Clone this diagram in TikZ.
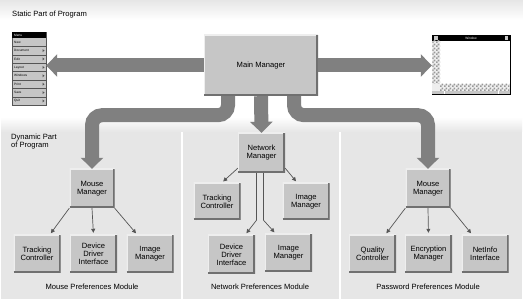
\documentclass[tikz,border=0pt]{standalone}
\usepackage{fontspec}
\setmainfont{Liberation Sans}
\usetikzlibrary{arrows.meta,patterns.meta,positioning}
\definecolor{panelgray}{RGB}{230,230,230}
\definecolor{boxgray}{RGB}{198,198,198}
\definecolor{boxdark}{RGB}{112,112,112}
\definecolor{boxlight}{RGB}{238,238,238}
\definecolor{arrowgray}{RGB}{128,128,128}
\definecolor{linegray}{RGB}{85,85,85}

\tikzdeclarepattern{name=checks, type=uncolored,
  bounding box={(0pt,0pt) and (4pt,4pt)}, tile size={(4pt,4pt)},
  code={\fill (0pt,0pt) rectangle (2pt,2pt); \fill (2pt,2pt) rectangle (4pt,4pt);}}

\tikzset{
  lbl/.style={font=\fontsize{7.6}{8}\selectfont},
  tinylbl/.style={font=\fontsize{3.2}{3.5}\selectfont, inner sep=0pt},
  mgrbox/.style={lbl, fill=boxgray, align=center, inner sep=1pt,
    minimum width=47pt, minimum height=38pt,
    path picture={
      \draw[boxlight, line width=2pt] (path picture bounding box.south west)
        -- (path picture bounding box.north west) -- (path picture bounding box.north east);
      \draw[boxdark, line width=4pt] (path picture bounding box.south west)
        -- (path picture bounding box.south east) -- (path picture bounding box.north east);
    }},
  mainbox/.style={mgrbox, minimum width=114pt, minimum height=61pt},
  bigarrow/.style={draw=arrowgray, line width=14pt, -{Triangle[width=22pt,length=11pt]}},
  thinarrow/.style={draw=linegray, line width=0.7pt, -{Triangle[width=4pt,length=4pt]}, shorten >=2pt},
}

\begin{document}
\begin{tikzpicture}[x=1pt, y=-1pt]
\useasboundingbox (0,0) rectangle (523,307);

% Background
\fill[white] (0,0) rectangle (523,307);
\shade[top color=panelgray, bottom color=white] (0,0) rectangle (523,20);
\shade[top color=white, bottom color=panelgray] (1,117) rectangle (522,132);
\fill[panelgray] (1,132) rectangle (522,299);
\fill[white] (181,132) rectangle (183,299);
\fill[white] (339,132) rectangle (341,299);

% Titles
\node[lbl, anchor=base west, inner sep=0pt] (static) at (12,17) {Static Part of Program};
\node[lbl, anchor=north west, align=left, inner sep=0pt] (dynamic) at (11,134) {Dynamic Part\\of Program};

% Main manager
\node[mainbox] (main) at (261,65.5) {Main Manager};

% Menu
\node[draw=linegray, fill=boxgray, minimum width=34pt, minimum height=73pt, inner sep=0pt] (menu) at (29,68.5) {};
\fill[black] (12,32) rectangle (46,38);
\node[tinylbl, white, anchor=west] at (14,35) {Menu};
\foreach \i/\item in {1/New,2/Document,3/Edit,4/Layout,5/Windows,6/Print,7/Save,8/Quit} {
  \draw[linegray, line width=0.4pt] (12,{38+8.4*\i}) -- (46,{38+8.4*\i});
  \node[tinylbl, anchor=west] at (14,{38+8.4*\i-4.2}) {\item};
}
\foreach \i in {2,...,8} {
  \fill[linegray] (42.5,{38+8.4*\i-5.7}) -- (44.5,{38+8.4*\i-4.2}) -- (42.5,{38+8.4*\i-2.7}) -- cycle;
}

% Window
\node[draw=black, fill=white, minimum width=78pt, minimum height=59pt, inner sep=0pt] (win) at (471,64.5) {};
\fill[black] (432,35) rectangle (510,41);
\node[tinylbl, white] at (471,38) {Window};
\fill[boxgray] (434,36) rectangle (437.5,40);
\fill[boxgray] (504.5,36) rectangle (508,40);
\fill[boxlight] (432.3,41) rectangle (440,91);
\fill[pattern=checks, pattern color=gray!80] (432.3,41) rectangle (440,91);
\fill[boxlight] (432.3,84) rectangle (509.7,91);
\fill[pattern=checks, pattern color=gray!80] (440,84) rectangle (509.7,91);
\fill[boxgray] (432.3,91) rectangle (509.7,94);
\draw[white, line width=0.8pt] (444,91) -- (444,94);
\draw[white, line width=0.8pt] (498,91) -- (498,94);

% Mouse preferences module
\node[mgrbox, minimum width=45pt, minimum height=39pt] (mouseL) at (92,188.5) {Mouse\\Manager};
\node[mgrbox] (trackL) at (37,254) {Tracking\\Controller};
\node[mgrbox] (devL) at (93.5,254) {Device\\Driver\\Interface};
\node[mgrbox] (imgL) at (150,254) {Image\\Manager};
\node[lbl] (modL) at (92,287) {Mouse Preferences Module};

% Network preferences module
\node[mgrbox, minimum height=40pt] (netM) at (261.5,153) {Network\\Manager};
\node[mgrbox, minimum height=37pt] (trackM) at (217,201.5) {Tracking\\Controller};
\node[mgrbox, minimum height=37pt] (imgMa) at (306,201.5) {Image\\Manager};
\node[mgrbox, minimum height=39pt] (devM) at (231.5,254.5) {Device\\Driver\\Interface};
\node[mgrbox] (imgMb) at (288.5,253) {Image\\Manager};
\node[lbl] (modM) at (260,287) {Network Preferences Module};

% Password preferences module
\node[mgrbox, minimum width=45pt, minimum height=39pt] (mouseR) at (428,188.5) {Mouse\\Manager};
\node[mgrbox] (qualR) at (372.5,254) {Quality\\Controller};
\node[mgrbox] (encR) at (428.5,254) {Encryption\\Manager};
\node[mgrbox] (infoR) at (485,254) {NetInfo\\Interface};
\node[lbl] (modR) at (428,287) {Password Preferences Module};

% Big arrows
\draw[bigarrow] (main.west) -- (main.west -| menu.east);
\draw[bigarrow] (main.east) -- (main.east -| win.west);
\draw[bigarrow, rounded corners=10pt] ([xshift=-33pt]main.south) -- ++(0,19) -| (mouseL.north);
\draw[bigarrow] (main.south) -- (netM.north);
\draw[bigarrow, rounded corners=10pt] ([xshift=33pt]main.south) -- ++(0,19) -| (mouseR.north);

% Thin arrows
\draw[thinarrow] (mouseL.south west) -- ([xshift=-11pt]trackL.north east);
\draw[thinarrow] (mouseL.south) -- (devL.north);
\draw[thinarrow] (mouseL.south east) -- ([xshift=11pt]imgL.north west);
\draw[thinarrow] ([yshift=5pt]netM.south west) -- ([xshift=-19pt]trackM.north east);
\draw[thinarrow] ([yshift=5pt]netM.south east) -- ([xshift=15pt]imgMa.north west);
\draw[thinarrow] ([xshift=-5pt]netM.south) -- ++(0,47) -- ([xshift=-10pt]devM.north east);
\draw[thinarrow] ([xshift=2pt]netM.south) -- ++(0,47) -- ([xshift=11pt]imgMb.north west);
\draw[thinarrow] (mouseR.south west) -- ([xshift=-11pt]qualR.north east);
\draw[thinarrow] (mouseR.south) -- (encR.north);
\draw[thinarrow] (mouseR.south east) -- ([xshift=11pt]infoR.north west);

\end{tikzpicture}
\end{document}
